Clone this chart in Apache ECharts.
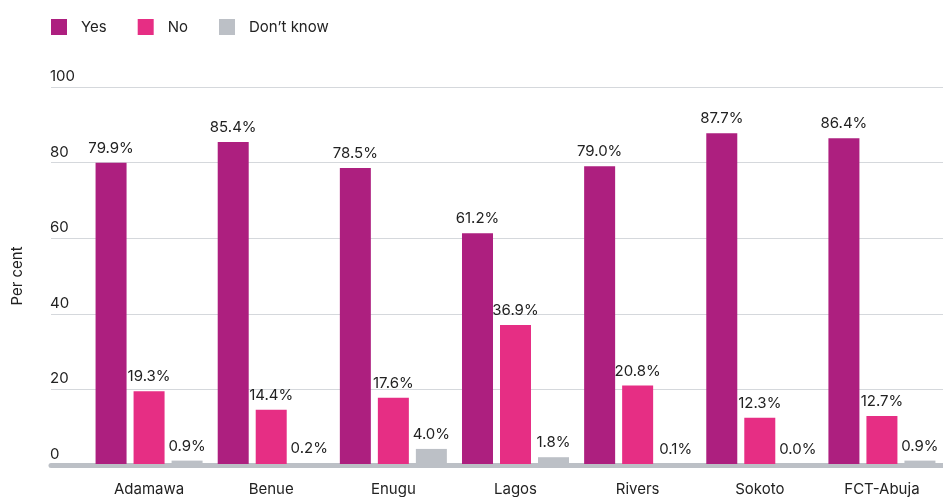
<!DOCTYPE html>
<html>
<head>
<meta charset="utf-8">
<script src="https://cdn.jsdelivr.net/npm/echarts@6/dist/echarts.min.js"></script>
<style>html,body{margin:0;padding:0;background:#fff}#c{width:943px;height:497px}</style>
</head>
<body>
<div id="c"></div>
<script>
const categories = ['Adamawa', 'Benue', 'Enugu', 'Lagos', 'Rivers', 'Sokoto', 'FCT-Abuja'];
const yesValues = [79.9, 85.4, 78.5, 61.2, 79.0, 87.7, 86.4];
const noValues = [19.3, 14.4, 17.6, 36.9, 20.8, 12.3, 12.7];
const dkValues = [0.9, 0.2, 4.0, 1.8, 0.1, 0.0, 0.9];
const yTicks = [0, 20, 40, 60, 80, 100];

const FONT = 'Inter, "Noto Sans", sans-serif';
const TXT = '#222';
const chart = echarts.init(document.getElementById('c'));
const lbl = {
  show: true, position: 'top', distance: 7,
  formatter: p => p.value.toFixed(1) + '%',
  color: TXT, fontSize: 15, fontFamily: FONT
};
chart.setOption({
  animation: false,
  textStyle: { fontFamily: FONT },
  legend: {
    left: 46, top: 14, itemWidth: 16, itemHeight: 16, itemGap: 31,
    icon: 'rect',
    textStyle: { color: TXT, fontSize: 15, fontFamily: FONT, padding: [0, 0, 0, 9] },
    data: ['Yes', 'No', 'Don\u2019t know']
  },
  grid: [
    { left: 51, right: 0, top: 87, bottom: 32 },
    { left: 88, right: -2, top: 87, bottom: 32 }
  ],
  xAxis: [
    { type: 'value', gridIndex: 0, min: 0, max: 1, show: true,
      axisLabel: { show: false }, axisTick: { show: false }, splitLine: { show: false },
      axisLine: { show: true, lineStyle: { color: '#bcc0c6', width: 5 } } },
    { type: 'category', gridIndex: 1, data: categories,
      axisLine: { show: false }, axisTick: { show: false },
      axisLabel: { color: TXT, fontSize: 15, fontFamily: FONT, margin: 18 } }
  ],
  yAxis: [
    { type: 'value', gridIndex: 0, min: 0, max: 100, interval: 20,
      name: 'Per cent', nameLocation: 'middle', nameGap: 26,
      nameTextStyle: { color: TXT, fontSize: 15, fontFamily: FONT },
      axisLine: { show: false }, axisTick: { show: false },
      axisLabel: { inside: true, align: 'left', verticalAlign: 'bottom', margin: -1,
        padding: [0, 0, 3, 0], color: TXT, fontSize: 15, fontFamily: FONT,
        formatter: v => yTicks.includes(v) ? String(v) : '' },
      splitLine: { lineStyle: { color: '#d5d8dc', width: 1 } } },
    { type: 'value', gridIndex: 1, min: 0, max: 100, interval: 20, show: false }
  ],
  series: [
    { name: 'Yes', type: 'bar', xAxisIndex: 1, yAxisIndex: 1, data: yesValues,
      barWidth: 31, barGap: '22.6%', itemStyle: { color: '#ad1f7f' }, label: lbl, z: 1 },
    { name: 'No', type: 'bar', xAxisIndex: 1, yAxisIndex: 1, data: noValues,
      barWidth: 31, barGap: '22.6%', itemStyle: { color: '#e62e84' }, label: lbl, z: 1 },
    { name: 'Don\u2019t know', type: 'bar', xAxisIndex: 1, yAxisIndex: 1, data: dkValues,
      barWidth: 31, barGap: '22.6%', itemStyle: { color: '#bcc0c6' }, label: lbl, z: 1 }
  ]
});
</script>
</body>
</html>
